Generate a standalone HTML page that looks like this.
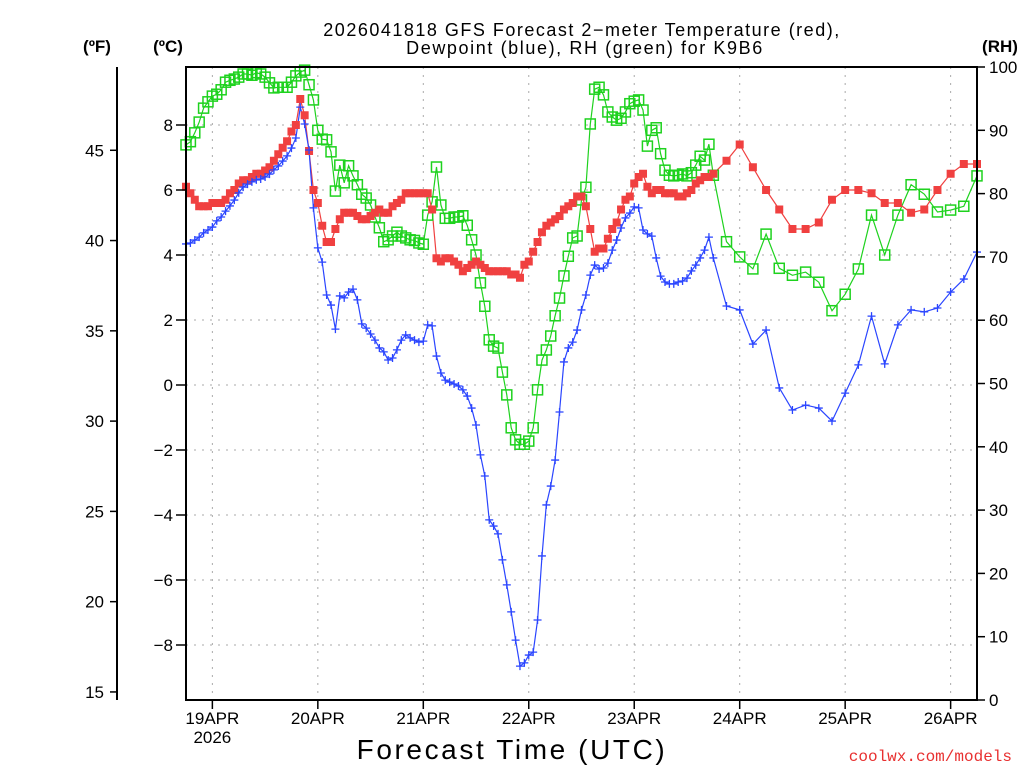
<!DOCTYPE html>
<html><head><meta charset="utf-8"><style>
body{margin:0;background:#fff;}
svg{display:block;font-family:"Liberation Sans",sans-serif;}
</style></head><body>
<svg id="chart" width="1024" height="768" viewBox="0 0 1024 768" xmlns="http://www.w3.org/2000/svg">
<rect width="1024" height="768" fill="#fff"/>
<g id="grid"></g>
<g id="series"></g>
<rect x="186" y="67" width="791" height="633" fill="none" stroke="#000" stroke-width="2"/>
<line x1="117" y1="67" x2="117" y2="700" stroke="#000" stroke-width="2"/>
<g id="axes" font-size="17"></g>
<text x="582" y="36" font-size="18" text-anchor="middle" letter-spacing="1.5">2026041818 GFS Forecast 2−meter Temperature (red),</text>
<text x="585" y="54" font-size="18" text-anchor="middle" letter-spacing="1.6">Dewpoint (blue), RH (green) for K9B6</text>
<text x="97" y="52" font-size="17" font-weight="bold" text-anchor="middle">(ºF)</text>
<text x="168" y="52" font-size="17" font-weight="bold" text-anchor="middle">(ºC)</text>
<text x="1000" y="52" font-size="17" font-weight="bold" text-anchor="middle">(RH)</text>
<text x="512" y="759" font-size="28" text-anchor="middle" letter-spacing="2.6">Forecast Time (UTC)</text>
<text x="1012" y="761" font-size="16" fill="#e83030" text-anchor="end" font-family="Liberation Mono, monospace">coolwx.com/models</text>
</svg>
<script>
const tempC = [6.1,5.9,5.7,5.5,5.5,5.5,5.6,5.6,5.6,5.7,
5.9,6.0,6.2,6.3,6.3,6.4,6.5,6.5,6.6,6.7,
6.9,7.1,7.3,7.5,7.8,8.0,8.8,8.3,7.2,6.0,
5.6,4.9,4.4,4.4,4.8,5.1,5.3,5.3,5.3,5.2,
5.1,5.1,5.2,5.3,5.4,5.3,5.3,5.5,5.6,5.7,
5.9,5.9,5.9,5.9,5.9,5.9,5.4,3.9,3.8,3.9,
3.9,3.8,3.7,3.5,3.6,3.7,3.8,3.7,3.6,3.5,
3.5,3.5,3.5,3.5,3.4,3.4,3.3,3.7,3.8,4.1,
4.4,4.7,4.9,5.0,5.1,5.2,5.4,5.5,5.6,5.8,
5.8,5.5,4.8,4.1,4.2,4.2,4.5,4.8,5.0,5.4,
5.7,5.8,6.2,6.4,6.5,6.1,5.9,6.0,6.0,5.9,
5.9,5.9,5.8,5.8,5.9,6.0,6.2,6.3,6.4,6.4,
6.5,
6.9,7.4,6.7,6.0,5.4,4.8,4.8,5.0,5.7,6.0,6.0,5.9,5.6,5.6,5.3,5.4,6.0,6.5,6.8,6.8];
const dewC = [4.34,4.37,4.46,4.55,4.68,4.77,4.86,5.05,5.17,5.35,
5.51,5.69,5.91,6.09,6.18,6.25,6.31,6.34,6.4,6.49,
6.62,6.74,6.89,7.05,7.29,7.6,8.55,8.03,7.23,5.45,
4.22,3.78,2.77,2.46,1.72,2.74,2.68,2.86,2.95,2.62,
1.88,1.75,1.57,1.38,1.14,1.02,0.77,0.83,1.08,1.38,
1.54,1.45,1.38,1.32,1.35,1.85,1.82,0.89,0.37,0.15,
0.09,0.03,-0.03,-0.15,-0.34,-0.71,-1.23,-2.15,-2.8,-4.15,
-4.34,-4.58,-5.38,-6.15,-6.98,-7.85,-8.65,-8.55,-8.31,-8.22,
-7.23,-5.26,-3.69,-3.11,-2.31,-0.83,0.71,1.14,1.32,1.69,
2.31,2.77,3.38,3.69,3.57,3.6,3.75,4.15,4.46,4.83,
5.14,5.29,5.48,5.45,4.77,4.65,4.58,3.91,3.35,3.17,
3.11,3.11,3.17,3.2,3.29,3.51,3.69,3.91,4.15,4.55,
3.91,
2.43,2.31,1.26,1.69,-0.09,-0.77,-0.62,-0.71,-1.11,-0.25,0.62,2.12,0.65,1.85,2.31,2.25,2.37,2.86,3.26,4.09];
const rhPct = [87.7,88.2,89.6,91.3,93.5,94.5,95.4,95.7,96.4,97.6,
97.9,98.1,98.4,98.9,98.9,98.7,99.1,98.9,98.4,97.5,
96.7,96.8,96.8,96.8,97.6,98.6,99.2,99.5,97.2,94.8,
90.0,88.6,88.5,86.6,80.4,84.5,81.7,84.4,82.8,81.4,
79.9,79.3,78.2,76.3,74.6,72.4,72.7,73.3,73.9,73.3,
73.0,72.7,72.6,72.2,72.0,76.6,78.7,84.2,78.2,76.1,
76.1,76.3,76.3,76.5,75.0,72.7,70.3,65.9,62.2,56.9,
55.9,55.6,51.8,48.2,43.0,41.1,40.4,40.4,40.9,43.0,
49.0,53.7,55.3,57.5,60.7,63.5,67.0,70.1,73.0,73.3,
79.0,81.0,91.0,96.5,96.8,95.6,92.9,92.1,91.6,91.9,
92.9,94.2,94.6,94.8,93.2,87.5,90.0,90.4,86.3,83.7,
82.9,82.8,82.9,83.1,82.8,83.3,84.5,85.9,85.3,87.8,
82.9,
72.4,70.0,68.1,73.6,68.2,67.1,67.6,66.0,61.5,64.1,68.1,76.6,70.3,76.6,81.4,79.9,77.1,77.4,78.0,82.8];
const dayLabels = ["19APR","20APR","21APR","22APR","23APR","24APR","25APR","26APR"];
const cTicks = [8,6,4,2,0,-2,-4,-6,-8];
const fTicks = [45,40,35,30,25,20,15];
const rhTicks = [100,90,80,70,60,50,40,30,20,10,0];

const hours = [];
for (let h = 0; h <= 120; h++) hours.push(h);
for (let h = 123; h <= 180; h += 3) hours.push(h);

const NS = "http://www.w3.org/2000/svg";
const X0 = 186, X1 = 977, Y0 = 67, Y1 = 700;
const xH = h => X0 + (X1 - X0) * h / 180;
const yC = c => 385 - 32.5 * c;
const yF = f => yC((f - 32) * 5 / 9);
const yRH = r => Y1 - (Y1 - Y0) * r / 100;
function mk(tag, attrs, parent) {
  const e = document.createElementNS(NS, tag);
  for (const k in attrs) e.setAttribute(k, attrs[k]);
  parent.appendChild(e);
  return e;
}
const grid = document.getElementById('grid');
const axes = document.getElementById('axes');
const series = document.getElementById('series');

dayLabels.forEach((d, i) => {
  const x = xH(6 + 24 * i);
  const gl = mk('line', {x1: x, y1: Y0, x2: x, y2: Y1, stroke: '#aaa', 'stroke-dasharray': '2,6'}, grid);
  
  
  const tk = mk('line', {x1: x, y1: Y1, x2: x, y2: Y1 + 9, stroke: '#000', 'stroke-width': 1.5}, axes);
  
  
  const t = mk('text', {x: x, y: 724, 'text-anchor': 'middle'}, axes);
  t.textContent = d;
  
  
});
const yr = mk('text', {x: xH(6), y: 743, 'text-anchor': 'middle'}, axes);
yr.textContent = "2026";



cTicks.forEach(c => {
  const y = yC(c);
  const gl = mk('line', {x1: X0, y1: y, x2: X1, y2: y, stroke: '#aaa', 'stroke-dasharray': '2,6'}, grid);
  
  
  const tk = mk('line', {x1: X0 - 10, y1: y, x2: X0, y2: y, stroke: '#000', 'stroke-width': 1.5}, axes);
  
  
  const t = mk('text', {x: 173, y: y + 6, 'text-anchor': 'end'}, axes);
  t.textContent = c < 0 ? '−' + (-c) : String(c);
  
  
});
fTicks.forEach(f => {
  const y = yF(f);
  const tk = mk('line', {x1: 110, y1: y, x2: 117, y2: y, stroke: '#000', 'stroke-width': 1.5}, axes);
  
  
  const t = mk('text', {x: 104, y: y + 6, 'text-anchor': 'end'}, axes);
  t.textContent = String(f);
  
  
});
rhTicks.forEach(r => {
  const y = yRH(r);
  const tk = mk('line', {x1: X1, y1: y, x2: X1 + 8, y2: y, stroke: '#000', 'stroke-width': 1.5}, axes);
  
  
  const t = mk('text', {x: 989, y: y + 6, 'text-anchor': 'start'}, axes);
  t.textContent = String(r);
  
  
});

function drawLine(vals, yf, color, name) {
  const pts = vals.map((v, i) => xH(hours[i]).toFixed(1) + ',' + yf(v).toFixed(1)).join(' ');
  const pl = mk('polyline', {points: pts, fill: 'none', stroke: color, 'stroke-width': 1.2}, series);
  
  
}
drawLine(rhPct, yRH, '#1ed21e', 'rh-line');
drawLine(tempC, yC, '#f04040', 'temperature-line');
drawLine(dewC, yC, '#2a45ff', 'dewpoint-line');

rhPct.forEach((v, i) => {
  const x = xH(hours[i]), y = yRH(v);
  const m = mk('rect', {x: x - 5, y: y - 5, width: 10, height: 10, fill: 'none', stroke: '#1ed21e', 'stroke-width': 1.5}, series);
  
  
});
tempC.forEach((v, i) => {
  const x = xH(hours[i]), y = yC(v);
  const m = mk('rect', {x: x - 4, y: y - 4, width: 8, height: 8, fill: '#f04040'}, series);
  
  
});
dewC.forEach((v, i) => {
  const x = xH(hours[i]), y = yC(v);
  const m = mk('path', {d: `M${x-4},${y}H${x+4}M${x},${y-4}V${y+4}`, stroke: '#2a45ff', 'stroke-width': 1.3}, series);
  
  
});
</script>
</body></html>
